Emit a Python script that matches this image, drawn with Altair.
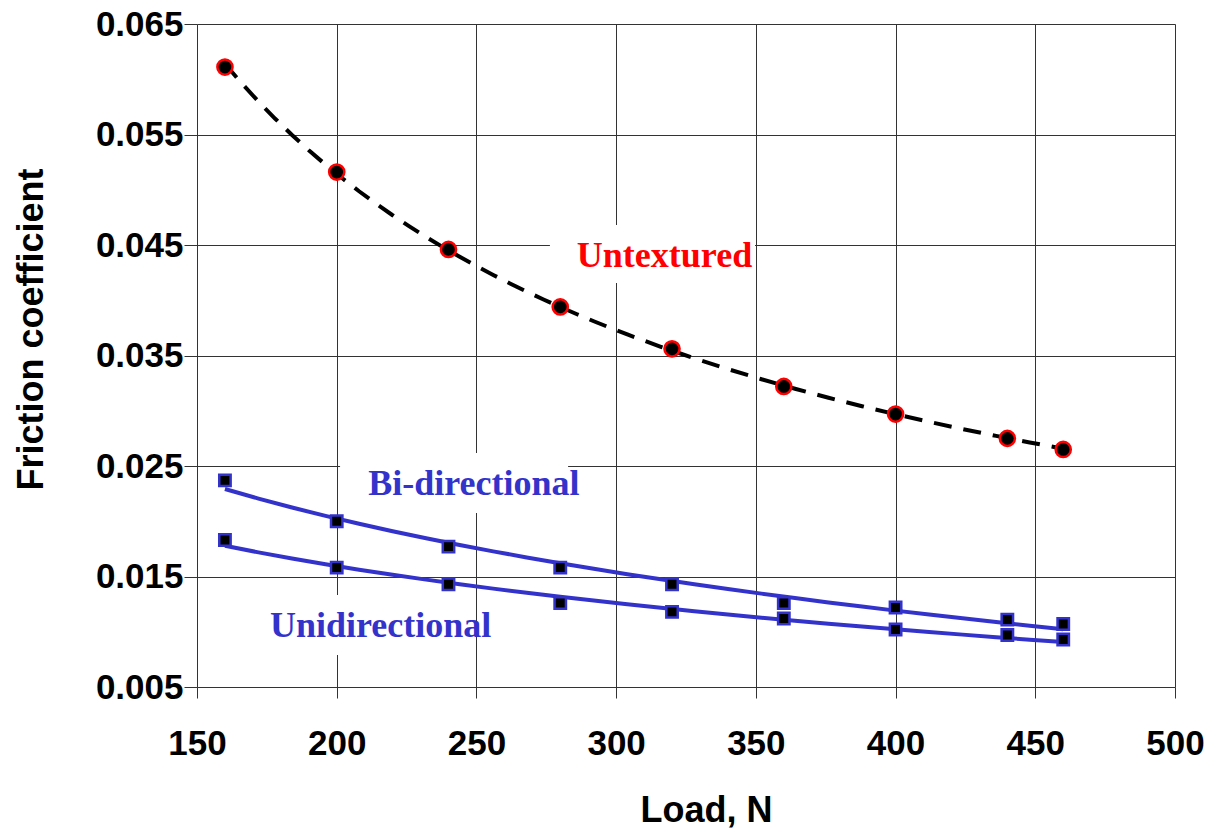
import altair as alt
import pandas as pd

# ---- data ----
loads = [160, 200, 240, 280, 320, 360, 400, 440, 460]
untextured = [0.0611, 0.0516, 0.0446, 0.0394, 0.0356, 0.0322, 0.0297, 0.0275, 0.0265]
bidirectional = [0.0237, 0.0200, 0.0177, 0.0158, 0.0143, 0.0126, 0.0122, 0.0111, 0.0107]
unidirectional = [0.0183, 0.0158, 0.0143, 0.0126, 0.0118, 0.0112, 0.0102, 0.0097, 0.0093]

label_text = ["Untextured", "Bi-directional", "Unidirectional"]
label_x = [317.3, 249.1, 215.7]
label_y = [0.0430, 0.02238, 0.00952]
label_color = ["#ff0000", "#3333cc", "#3333cc"]

# white backgrounds behind the labels (they hide the gridlines)
box_x1 = [276.3, 201.2, 170.8]
box_x2 = [349.7, 282.8, 247.7]
box_y1 = [0.04156, 0.02075, 0.00790]
box_y2 = [0.04681, 0.02618, 0.01333]

x_ticks = [150, 200, 250, 300, 350, 400, 450, 500]
y_ticks = [0.005, 0.015, 0.025, 0.035, 0.045, 0.055, 0.065]

rows = []
for name, vals in [("Untextured", untextured), ("Bi-directional", bidirectional),
                   ("Unidirectional", unidirectional)]:
    for l, v in zip(loads, vals):
        rows.append({"load": l, "friction": v, "series": name})
df = pd.DataFrame(rows)

labels = pd.DataFrame({"text": label_text, "x": label_x, "y": label_y, "color": label_color})
boxes = pd.DataFrame({"x1": box_x1, "x2": box_x2, "y1": box_y1, "y2": box_y2})

FONT = "Liberation Sans"
BLUE = "#3333cc"

xscale = alt.Scale(domain=[150, 500], nice=False, zero=False)
yscale = alt.Scale(domain=[0.005, 0.065], nice=False, zero=False)

xaxis = alt.Axis(values=x_ticks, title="Load, N", grid=True, gridColor="#333333",
                 gridWidth=1, domain=False, tickSize=11, tickColor="#333333",
                 labelFont=FONT, labelFontSize=35, labelFontWeight="bold", labelColor="black",
                 labelPadding=28, titleFont=FONT, titleFontSize=36, titleFontWeight="bold",
                 titleColor="black", titleX=509, titleY=123, titleBaseline="middle",
                 titleAlign="center", labelFlush=False)
yaxis = alt.Axis(values=y_ticks, format=".3f", title="Friction coefficient", grid=True,
                 gridColor="#333333", gridWidth=1, domain=False, tickSize=13,
                 tickColor="#333333", labelFont=FONT, labelFontSize=35,
                 labelFontWeight="bold", labelColor="black", labelPadding=1,
                 titleFont=FONT, titleFontSize=36, titleFontWeight="bold", titleColor="black",
                 titleX=-166, titleY=305, titleBaseline="middle", titleAlign="center",
                 titleAngle=270, labelFlush=False)

base = alt.Chart(df)

# axes carrier (invisible points)
axes_layer = base.mark_point(opacity=0).encode(
    x=alt.X("load:Q", scale=xscale, axis=xaxis),
    y=alt.Y("friction:Q", scale=yscale, axis=yaxis),
)

bg = alt.Chart(boxes).mark_rect(color="white").encode(
    x=alt.X("x1:Q", scale=xscale), x2="x2:Q",
    y=alt.Y("y1:Q", scale=yscale), y2="y2:Q",
)

trend_untex = base.transform_filter(alt.datum.series == "Untextured").transform_regression(
    "load", "friction", method="pow"
).mark_line(color="black", strokeWidth=4, strokeDash=[18, 12]).encode(
    x=alt.X("load:Q", scale=xscale), y=alt.Y("friction:Q", scale=yscale)
)

trend_blue = base.transform_filter(alt.datum.series != "Untextured").transform_regression(
    "load", "friction", method="log", groupby=["series"]
).mark_line(color=BLUE, strokeWidth=4).encode(
    x=alt.X("load:Q", scale=xscale), y=alt.Y("friction:Q", scale=yscale),
    detail="series:N"
)

circles = base.transform_filter(alt.datum.series == "Untextured").mark_point(
    shape="circle", filled=True, fill="black", stroke="#ff0000", strokeWidth=2.5,
    size=230, opacity=1
).encode(x=alt.X("load:Q", scale=xscale), y=alt.Y("friction:Q", scale=yscale))

squares = base.transform_filter(alt.datum.series != "Untextured").mark_point(
    shape="square", filled=True, fill="black", stroke=BLUE, strokeWidth=2.5,
    size=130, opacity=1
).encode(x=alt.X("load:Q", scale=xscale), y=alt.Y("friction:Q", scale=yscale))

texts = alt.Chart(labels).mark_text(
    font="Liberation Serif", fontSize=36, fontWeight="bold", align="center",
    baseline="alphabetic"
).encode(
    x=alt.X("x:Q", scale=xscale), y=alt.Y("y:Q", scale=yscale),
    text="text:N", color=alt.Color("color:N", scale=None)
)

chart = alt.layer(axes_layer, bg, trend_untex, trend_blue, circles, squares, texts).properties(
    width=978, height=663,
    padding={"left": 197, "top": 24, "right": 57, "bottom": 143},
    autosize=alt.AutoSizeParams(type="none"),
).configure_view(stroke="black", strokeWidth=1.5).configure(background="white")

chart.save("out.html", embed_options={"renderer": "svg", "actions": False})
